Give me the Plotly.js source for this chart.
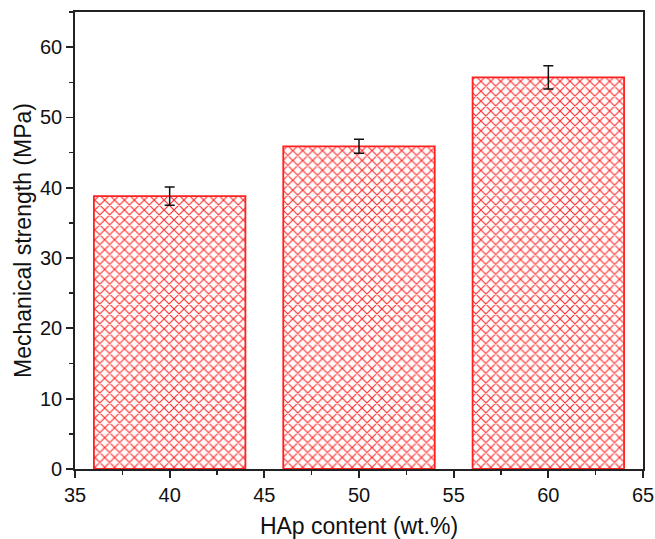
<!DOCTYPE html>
<html>
<head>
<meta charset="utf-8">
<script src="https://cdn.plot.ly/plotly-3.0.1.min.js"></script>
<style>html,body{margin:0;padding:0;background:#fff;}</style>
</head>
<body>
<div id="chart" style="width:655px;height:539px;"></div>
<script>
const hapContent = [40, 50, 60];
const strength = [38.8, 45.9, 55.7];
const strengthErr = [1.3, 1.0, 1.65];
const xTicks = [35, 40, 45, 50, 55, 60, 65];
const yTicks = [0, 10, 20, 30, 40, 50, 60];

const trace = {
  type: 'bar',
  x: hapContent,
  y: strength,
  width: 8,
  marker: {
    color: 'rgba(0,0,0,0)',
    line: {color: '#ff2020', width: 1.8},
    pattern: {shape: 'x', fgcolor: '#ff2a2a', bgcolor: 'white', size: 7, solidity: 0.3, fillmode: 'replace'}
  },
  error_y: {type: 'data', array: strengthErr, visible: true, color: '#111', thickness: 1.5, width: 5}
};

const axisFont = {family: 'Liberation Sans, Arial, sans-serif', size: 20, color: '#111'};
const titleFont = {family: 'Liberation Sans, Arial, sans-serif', size: 23, color: '#111'};
const layout = {
  width: 655, height: 539,
  margin: {l: 75, r: 12, t: 12, b: 70},
  paper_bgcolor: 'white', plot_bgcolor: 'white',
  showlegend: false,
  xaxis: {
    range: [35, 65], tickvals: xTicks, ticktext: xTicks.map(String),
    ticks: 'outside', ticklen: 7, tickwidth: 1.8, tickcolor: '#222',
    minor: {dtick: 2.5, ticks: 'outside', ticklen: 4, tickwidth: 1.5, tickcolor: '#222'},
    showline: true, linecolor: '#222', linewidth: 1.8, mirror: true,
    showgrid: false, zeroline: false,
    tickfont: axisFont, automargin: false,
    title: {text: 'HAp content (wt.%)', font: titleFont, standoff: 16}
  },
  yaxis: {
    range: [0, 65], tickvals: yTicks, ticktext: yTicks.map(String),
    ticks: 'outside', ticklen: 7, tickwidth: 1.8, tickcolor: '#222',
    minor: {dtick: 5, ticks: 'outside', ticklen: 4, tickwidth: 1.5, tickcolor: '#222'},
    showline: true, linecolor: '#222', linewidth: 1.8, mirror: true,
    showgrid: false, zeroline: false,
    tickfont: axisFont, automargin: false,
    title: {text: 'Mechanical strength (MPa)', font: titleFont, standoff: 2}
  }
};

Plotly.newPlot('chart', [trace], layout, {displayModeBar: false, staticPlot: true});
</script>
</body>
</html>
